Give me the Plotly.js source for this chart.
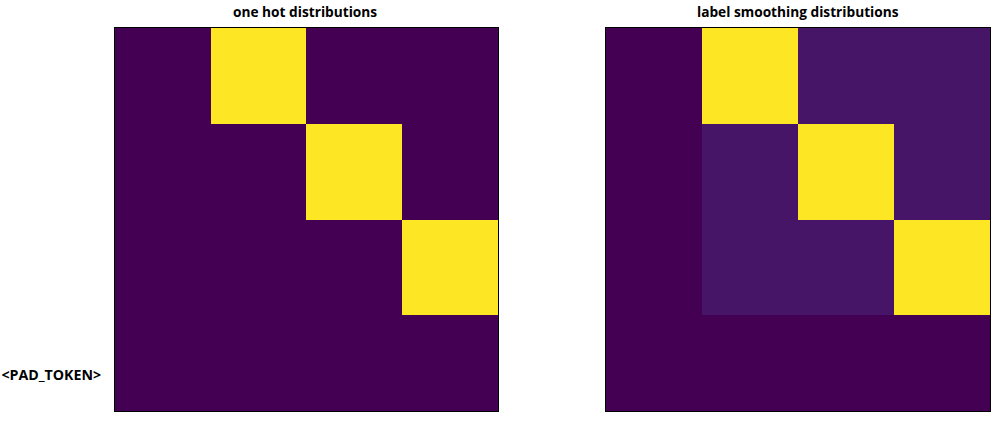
<!DOCTYPE html>
<html><head><meta charset="utf-8">
<script src="https://cdn.plot.ly/plotly-3.0.1.min.js"></script>
<style>html,body{margin:0;padding:0;background:#fff}#c{width:1006px;height:425px}</style>
</head><body><div id="c"></div>
<script>
const rowLabels = ["<PAD_TOKEN>"];
const colIdx = [0, 1, 2, 3];
const rowIdx = [0, 1, 2, 3];
const oneHot = [
  [0, 1, 0, 0],
  [0, 0, 1, 0],
  [0, 0, 0, 1],
  [0, 0, 0, 0]
];
const smoothed = [
  [0, 0.9, 0.05, 0.05],
  [0, 0.05, 0.9, 0.05],
  [0, 0.05, 0.05, 0.9],
  [0, 0, 0, 0]
];
const viridis = [
  [0, '#440154'], [0.05, '#471365'], [0.1, '#482475'], [0.15, '#463480'],
  [0.2, '#414487'], [0.25, '#3b528b'], [0.3, '#355f8d'], [0.35, '#2f6c8e'],
  [0.4, '#2a788e'], [0.45, '#25848e'], [0.5, '#21918c'], [0.55, '#1e9c89'],
  [0.6, '#22a884'], [0.65, '#2fb47c'], [0.7, '#44bf70'], [0.75, '#5ec962'],
  [0.8, '#7ad151'], [0.85, '#9bd93c'], [0.9, '#bddf26'], [0.95, '#dfe318'],
  [1, '#fde725']
];
const traces = [
  {type: 'heatmap', z: oneHot, x: colIdx, y: rowIdx, colorscale: viridis, showscale: false, xaxis: 'x', yaxis: 'y', zmin: 0, zmax: 1},
  {type: 'heatmap', z: smoothed, x: colIdx, y: rowIdx, colorscale: viridis, showscale: false, xaxis: 'x2', yaxis: 'y2', zmin: 0, zmax: 0.9}
];
const font = {family: 'Open Sans, DejaVu Sans, sans-serif', size: 13.7, color: '#000'};
const baseAx = {showgrid: false, zeroline: false, showline: true, mirror: true, linecolor: '#000', linewidth: 1, ticks: ''};
const layout = {
  width: 1006, height: 425,
  margin: {l: 0, r: 0, t: 0, b: 0},
  paper_bgcolor: '#fff', plot_bgcolor: '#fff',
  showlegend: false,
  font: font,
  xaxis: Object.assign({}, baseAx, {domain: [0.1143, 0.4950], range: [-0.5, 3.5], showticklabels: false}),
  yaxis: Object.assign({}, baseAx, {domain: [0.0329, 0.9341], range: [3.5, -0.5], tickmode: 'array', tickvals: [3.125], ticktext: rowLabels, ticklen: 0, ticklabelstandoff: 10, tickfont: {family: 'Open Sans, DejaVu Sans, sans-serif', size: 14.2, color: '#000', weight: 'bold'}}),
  xaxis2: Object.assign({}, baseAx, {domain: [0.6024, 0.9841], range: [-0.5, 3.5], showticklabels: false, anchor: 'y2'}),
  yaxis2: Object.assign({}, baseAx, {domain: [0.0329, 0.9341], range: [3.5, -0.5], showticklabels: false, anchor: 'x2'}),
  annotations: [
    {text: '<b>one hot distributions</b>', xref: 'paper', yref: 'paper', x: 0.3036, y: 1 - 12/425, xanchor: 'center', yanchor: 'middle', showarrow: false, font: font},
    {text: '<b>label smoothing distributions</b>', xref: 'paper', yref: 'paper', x: 0.7932, y: 1 - 12/425, xanchor: 'center', yanchor: 'middle', showarrow: false, font: font}
  ]
};
Plotly.newPlot('c', traces, layout, {displayModeBar: false, staticPlot: true});
</script></body></html>
